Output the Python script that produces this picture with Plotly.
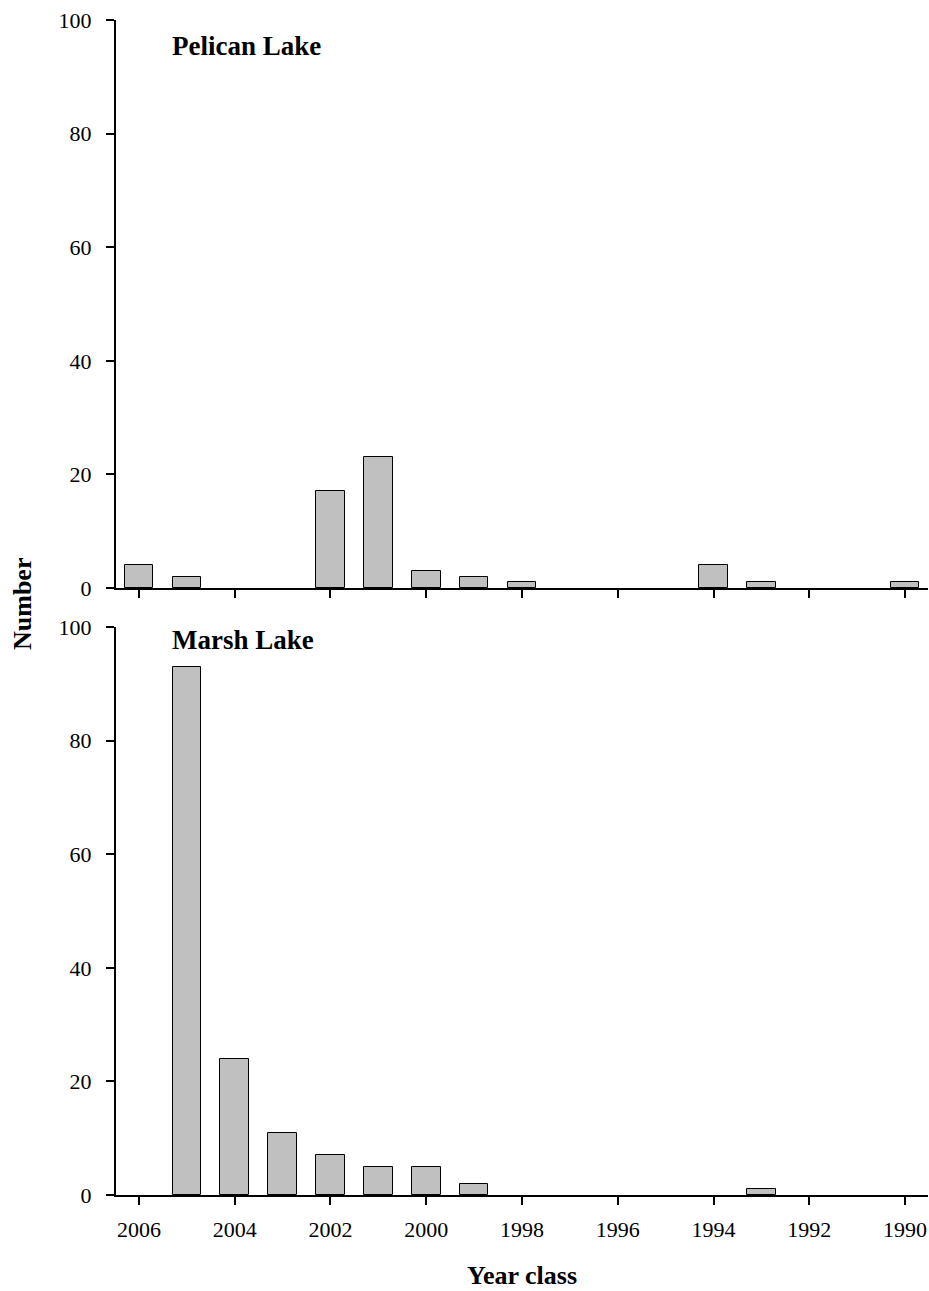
import plotly.graph_objects as go

years = list(range(2006, 1989, -1))
pelican = [4, 2, 0, 0, 17, 23, 3, 2, 1, 0, 0, 0, 4, 1, 0, 0, 1]
marsh = [0, 93, 24, 11, 7, 5, 5, 2, 0, 0, 0, 0, 0, 1, 0, 0, 0]
tick_years = list(range(2006, 1989, -2))
y_ticks = [0, 20, 40, 60, 80, 100]

FONT = "Liberation Serif, Times New Roman, serif"
W, H = 929, 1291
L, R, T, B = 116, 1, 20, 96
plot_h = H - T - B
top_dom = [(1195 - 588) / plot_h, 1.0]
bot_dom = [0.0, (1195 - 627) / plot_h]


def bar(vals, xa, ya):
    return go.Bar(x=years, y=vals, xaxis=xa, yaxis=ya, width=0.6, showlegend=False,
                  marker=dict(color="#c0c0c0",
                              line=dict(color="black", width=[1 if v > 0 else 0 for v in vals])),
                  hoverinfo="x+y")


fig = go.Figure()
fig.add_trace(bar(pelican, "x", "y"))
fig.add_trace(bar(marsh, "x2", "y2"))

xcommon = dict(range=[2006.48, 1989.52], tickvals=tick_years, ticks="outside", ticklen=8,
               tickwidth=1.5, tickcolor="black", showline=True, linecolor="black", linewidth=2,
               showgrid=False, zeroline=False, tickfont=dict(family=FONT, size=22, color="black"))
ycommon = dict(range=[0, 100], tickvals=y_ticks, ticks="outside", ticklen=8, tickwidth=1.5,
               tickcolor="black", showline=True, linecolor="black", linewidth=2, showgrid=False,
               zeroline=False, tickfont=dict(family=FONT, size=22, color="black"),
               ticklabelstandoff=10)

fig.update_layout(
    width=W, height=H,
    margin=dict(l=L, r=R, t=T, b=B),
    paper_bgcolor="white", plot_bgcolor="white",
    font=dict(family=FONT, color="black"),
    bargap=0,
    xaxis=dict(anchor="y", showticklabels=False, **xcommon),
    yaxis=dict(anchor="x", domain=top_dom, **ycommon),
    xaxis2=dict(anchor="y2", showticklabels=True, ticklabelstandoff=6, **xcommon),
    yaxis2=dict(anchor="x2", domain=bot_dom, **ycommon),
    annotations=[
        dict(text="<b>Pelican Lake</b>", x=2005.35, y=95.5, xref="x", yref="y",
             xanchor="left", yanchor="middle", showarrow=False,
             font=dict(family=FONT, size=27, color="black")),
        dict(text="<b>Marsh Lake</b>", x=2005.35, y=97.7, xref="x2", yref="y2",
             xanchor="left", yanchor="middle", showarrow=False,
             font=dict(family=FONT, size=27, color="black")),
        dict(text="<b>Number</b>", x=(22 - L) / (W - L - R), y=(1195 - 604) / plot_h,
             xref="paper", yref="paper", xanchor="center", yanchor="middle",
             textangle=-90, showarrow=False, font=dict(family=FONT, size=26, color="black")),
        dict(text="<b>Year class</b>", x=(522 - L) / (W - L - R), y=(1195 - 1275) / plot_h,
             xref="paper", yref="paper", xanchor="center", yanchor="middle",
             showarrow=False, font=dict(family=FONT, size=26, color="black")),
    ],
)

fig.write_html(
    "out.html",
    config={"displayModeBar": False},
    post_script="document.body.style.margin='0';document.body.style.padding='0';"
                "document.documentElement.style.overflow='hidden';",
)
